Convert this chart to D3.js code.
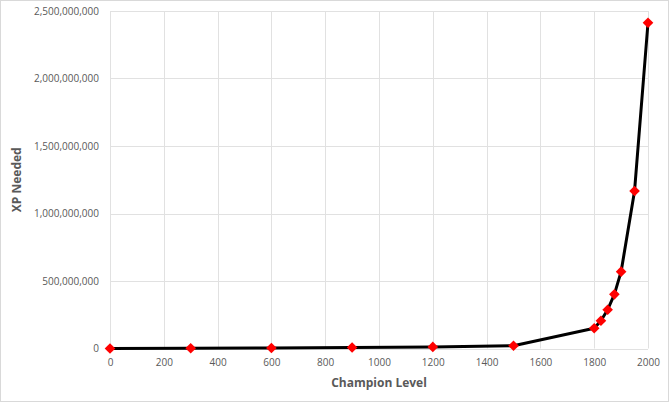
<!DOCTYPE html>
<html>
<head>
<meta charset="utf-8">
<script src="https://cdn.jsdelivr.net/npm/d3@7"></script>
<style>
  body { margin: 0; background: #fff; }
  svg { display: block; }
  .tick text { fill: #595959; font-family: "Open Sans", "Liberation Sans", sans-serif; font-size: 10px; }
  .title { fill: #595959; font-family: "Open Sans", "Liberation Sans", sans-serif; font-size: 12px; font-weight: bold; }
</style>
</head>
<body>
<svg id="chart" width="669" height="402"></svg>
<script>
// champion levels and xp values
const levels = [0, 300, 600, 900, 1200, 1500, 1800, 1825, 1850, 1875, 1900, 1950, 2000];
const xpNeeded = [0, 1500000, 4000000, 7000000, 12000000, 20000000, 150000000, 206000000, 287000000, 401000000, 569000000, 1167000000, 2413000000];
const xTicks = [0, 200, 400, 600, 800, 1000, 1200, 1400, 1600, 1800, 2000];
const yTicks = [0, 500000000, 1000000000, 1500000000, 2000000000, 2500000000];

var svg = d3.select("#chart");
var W = 669, H = 402;
var margin = { left: 110, right: 21, top: 11, bottom: 53.5 };

// outer chart border
svg.append("rect")
  .attr("x", 0.5).attr("y", 0.5)
  .attr("width", W - 1).attr("height", H - 1)
  .attr("fill", "#fff").attr("stroke", "#d9d9d9");

var x = d3.scaleLinear().domain([0, 2000]).range([margin.left, W - margin.right]);
var y = d3.scaleLinear().domain([0, 2500000000]).range([H - margin.bottom, margin.top]);

// gridlines
var grid = svg.append("g").attr("stroke", "#e1e1e1").attr("stroke-width", 1);
grid.selectAll("line.h").data(yTicks).enter().append("line")
  .attr("x1", x(0)).attr("x2", x(2000))
  .attr("y1", d => Math.round(y(d)) + 0.5).attr("y2", d => Math.round(y(d)) + 0.5);
grid.selectAll("line.v").data(xTicks).enter().append("line")
  .attr("y1", y(0)).attr("y2", y(2500000000))
  .attr("x1", d => Math.round(x(d)) + 0.5).attr("x2", d => Math.round(x(d)) + 0.5);

// axes (labels only, no domain lines)
var xAxis = svg.append("g")
  .attr("transform", "translate(0," + (H - margin.bottom) + ")")
  .call(d3.axisBottom(x).tickValues(xTicks).tickSize(0).tickPadding(10).tickFormat(d3.format("d")));
xAxis.select(".domain").remove();

var yAxis = svg.append("g")
  .attr("transform", "translate(" + margin.left + ",0)")
  .call(d3.axisLeft(y).tickValues(yTicks).tickSize(0).tickPadding(11).tickFormat(d3.format(",")));
yAxis.select(".domain").remove();

// axis titles
svg.append("text").attr("class", "title")
  .attr("x", (x(0) + x(2000)) / 2).attr("y", 387)
  .attr("text-anchor", "middle")
  .text("Champion Level");

svg.append("text").attr("class", "title")
  .attr("transform", "translate(21," + ((y(0) + y(2500000000)) / 2) + ") rotate(-90)")
  .attr("text-anchor", "middle")
  .text("XP Needed");

// series
var data = levels.map((l, i) => ({ level: l, xp: xpNeeded[i] }));

var line = d3.line().x(d => x(d.level)).y(d => y(d.xp));
svg.append("path")
  .datum(data)
  .attr("d", line)
  .attr("fill", "none")
  .attr("stroke", "#000")
  .attr("stroke-width", 3)
  .attr("stroke-linejoin", "round");

var diamond = d3.symbol().type(d3.symbolDiamond2).size(72);
svg.selectAll("path.marker").data(data).enter().append("path")
  .attr("class", "marker")
  .attr("d", diamond)
  .attr("transform", d => "translate(" + x(d.level) + "," + y(d.xp) + ")")
  .attr("fill", "#ff0000");
</script>
</body>
</html>
